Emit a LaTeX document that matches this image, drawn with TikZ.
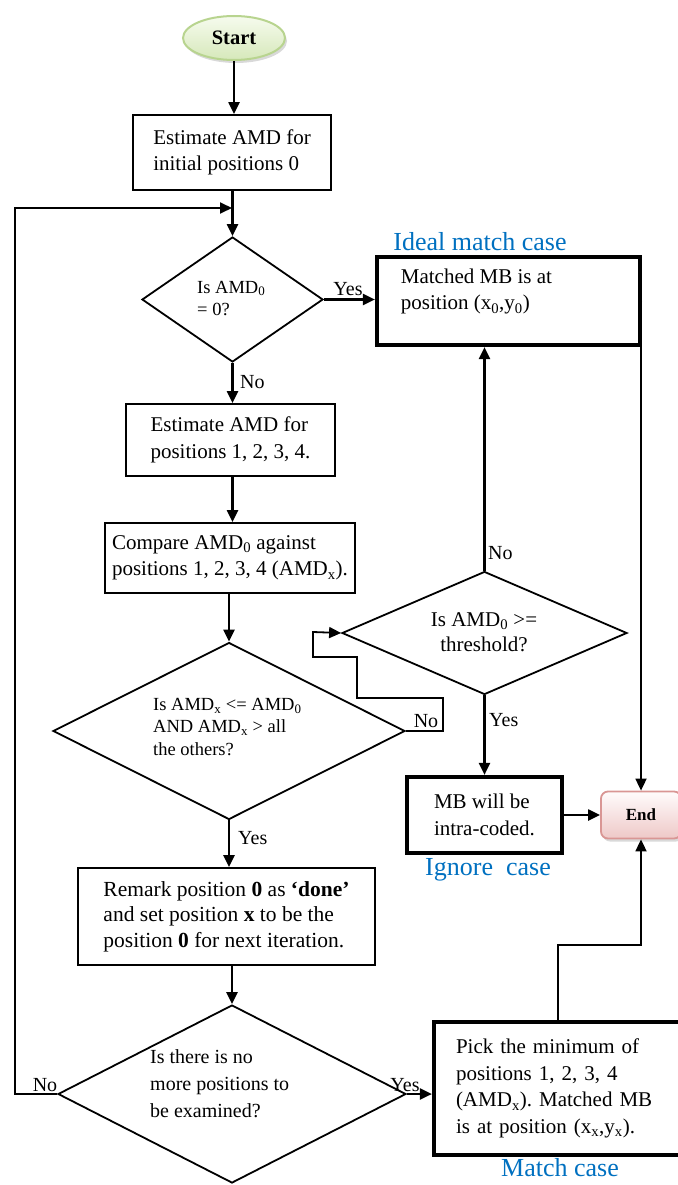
\documentclass[tikz,border=0pt]{standalone}
\usepackage{fontspec}
\setmainfont{Liberation Serif}
\usetikzlibrary{arrows.meta,shapes.geometric,shadows}
\definecolor{lblue}{RGB}{0,112,192}
\definecolor{startA}{RGB}{246,251,238}
\definecolor{startB}{RGB}{214,232,186}
\definecolor{startD}{RGB}{184,212,143}
\definecolor{endA}{RGB}{255,252,252}
\definecolor{endB}{RGB}{238,200,199}
\definecolor{endD}{RGB}{217,150,148}
\frenchspacing
\tikzset{
  proc/.style={draw=black, line width=1.8pt, inner sep=0pt, align=left, font=\fontsize{21}{26.5}\selectfont},
  thickproc/.style={proc, line width=4.2pt},
  dia/.style={draw=black, diamond, line width=1.8pt, inner sep=0pt},
  dtext/.style={align=left, inner sep=0pt, font=\fontsize{18.5}{22.5}\selectfont},
  arr/.style={line width=2.2pt, -{Triangle[length=12pt,width=11pt]}},
  thinarr/.style={line width=1.8pt, -{Triangle[length=12pt,width=11pt]}},
  lbl/.style={font=\fontsize{20}{24}\selectfont, inner sep=0pt},
  casetext/.style={text=lblue, font=\fontsize{26}{30}\selectfont, inner sep=0pt},
}
\begin{document}
\begin{tikzpicture}[x=1pt,y=-1pt]
\useasboundingbox (0,0) rectangle (677,1185);

% terminals
\node[ellipse, draw=startD, line width=2pt, top color=startA, bottom color=startB,
      minimum width=102, minimum height=44, inner sep=0pt,
      drop shadow={shadow xshift=2pt, shadow yshift=-3pt, opacity=0.3},
      font=\fontsize{20.5}{24}\selectfont\bfseries] (start) at (234,38) {Start};
\node[rounded corners=7pt, draw=endD, line width=1.8pt, top color=endA, bottom color=endB,
      minimum width=80, minimum height=47, inner sep=0pt,
      drop shadow={shadow xshift=2pt, shadow yshift=-3pt, opacity=0.3},
      font=\fontsize{17}{20}\selectfont\bfseries] (endn) at (641,815) {End};

% process boxes
\node[proc, minimum width=198, minimum height=75] (b1) at (232,152.5)
  {Estimate AMD for\\initial positions 0};
\node[proc, minimum width=209, minimum height=72] (b2) at (230.5,440)
  {Estimate AMD for\\positions 1, 2, 3, 4.};
\node[proc, minimum width=250, minimum height=70] (b3) at (230,558)
  {Compare AMD\textsubscript{0} against\\positions 1, 2, 3, 4 (AMD\textsubscript{x}).};
\node[proc, minimum width=297, minimum height=97, font=\fontsize{21.5}{25.5}\selectfont] (b4) at (226.5,916.5)
  {Remark position \textbf{0} as \textbf{`done'}\\and set position \textbf{x} to be the\\position \textbf{0} for next iteration.};
\node[thickproc, minimum width=263, minimum height=88] (matched) at (508.5,301) {};
\node[proc, draw=none, anchor=north west] (matchedt) at (400,268)
  {Matched MB is at\\position (x\textsubscript{0},y\textsubscript{0})};
\node[thickproc, minimum width=155, minimum height=76] (mb) at (484.5,815)
  {MB will be\\intra-coded.};
\node[thickproc, minimum width=248, minimum height=133, text width=204] (pick) at (558,1088.5)
  {Pick the minimum of\\positions 1, 2, 3, 4\\(AMD\textsubscript{x}). Matched MB\\is at position (x\textsubscript{x},y\textsubscript{x}).};

% decisions
\node[dia, minimum width=181, minimum height=125] (d1) at (232.5,299.5) {};
\node[dtext, anchor=west] (d1t) at (197,298.5) {Is AMD\textsubscript{0}\\= 0?};
\node[dia, minimum width=285, minimum height=123] (d2) at (484.5,633) {};
\node[dtext, font=\fontsize{21}{25}\selectfont, align=center] (d2t) at (484,632) {Is AMD\textsubscript{0} >=\\threshold?};
\node[dia, minimum width=352, minimum height=177] (d3) at (229,731) {};
\node[dtext, anchor=west] (d3t) at (153,727) {Is AMD\textsubscript{x} <= AMD\textsubscript{0}\\AND AMD\textsubscript{x} > all\\the others?};
\node[dia, minimum width=348, minimum height=178] (d4) at (232,1094) {};
\node[dtext, font=\fontsize{20}{27}\selectfont, anchor=west] (d4t) at (150,1084) {Is there is no\\more positions to\\be examined?};

% case labels
\node[casetext] (c1) at (480,242) {Ideal match case};
\node[casetext] (c2) at (488,870) {Ignore\ \ case};
\node[casetext] (c3) at (560,1168) {Match case};

% coordinates for bends
\coordinate (lp) at (15,208);
\coordinate (lpin) at (232,208);
\coordinate (n1) at (443,698);
\coordinate (n2) at (357,657);
\coordinate (n3) at (313,632);
\coordinate (k1) at (600,945);

% connectors
\draw[arr] (start.south) -- (start.south |- b1.north);
\draw[arr] (b1.south -| d1.north) -- (d1.north);
\draw[thinarr] (d4.west) -| (lp) -- (lpin);
\draw[arr] (d1.east) -- (matched.west |- d1.east);
\draw[arr] (d1.south) -- (b2.north -| d1.south);
\draw[arr] (b2.south -| d1.south) -- (b3.north -| d1.south);
\draw[arr] (b3.south -| d3.north) -- (d3.north);
\draw[thinarr] (d3.east) -| (n1) -| (n2) -| (n3) -- (d2.west);
\draw[arr] (d2.north) -- (matched.south -| d2.north);
\draw[arr] (d2.south) -- (mb.north -| d2.south);
\draw[arr] (mb.east) -- (endn.west |- mb.east);
\draw[thinarr] (matched.east) -| (endn.north);
\draw[arr] (d3.south) -- (b4.north -| d3.south);
\draw[arr] (b4.south -| d4.north) -- (d4.north);
\draw[arr] (d4.east) -- (pick.west |- d4.east);
\draw[thinarr] (pick.north) |- (k1) -| (endn.south);

% connector labels
\node[lbl] (y1) at (348,289) {Yes};
\node[lbl, anchor=west] (no1) at (240,382) {No};
\node[lbl, anchor=west] (no2) at (488,553) {No};
\node[lbl, anchor=west] (y2) at (489,720) {Yes};
\node[lbl] (no3) at (426,721) {No};
\node[lbl, anchor=west] (y3) at (238,838) {Yes};
\node[lbl] (y4) at (405,1085) {Yes};
\node[lbl] (no4) at (45,1085) {No};
\end{tikzpicture}
\end{document}
